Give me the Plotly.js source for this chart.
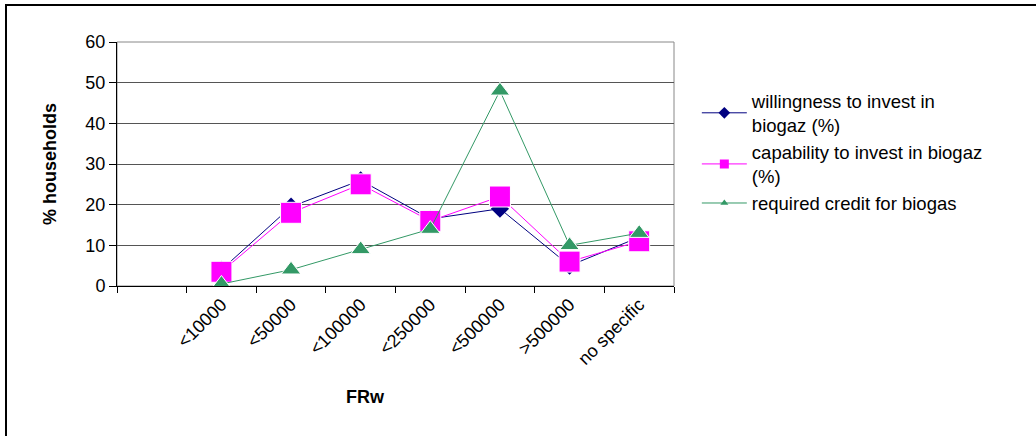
<!DOCTYPE html>
<html>
<head>
<meta charset="utf-8">
<script src="https://cdn.plot.ly/plotly-3.0.1.min.js"></script>
<style>
  html, body { margin: 0; padding: 0; background: #fff; }
  #wrap { position: relative; width: 1036px; height: 436px; overflow: hidden; }
  #chart { width: 1036px; height: 436px; }
  #frame { position: absolute; left: 5px; top: 4px; width: 1100px; height: 500px;
           border-left: 2px solid #000; border-top: 2px solid #000; pointer-events: none; }
</style>
</head>
<body>
<div id="wrap">
  <div id="chart"></div>
  <div id="frame"></div>
</div>
<script>
// Categories (first slot on the axis is empty, as in the original)
const axisCategories = [" ", "<10000", "<50000", "<100000", "<250000", "<500000", ">500000", "no specific"];
const categories = ["<10000", "<50000", "<100000", "<250000", "<500000", ">500000", "no specific"];

// Series values (% households)
const willingness = [4, 19.5, 26, 16.5, 19, 5, 12];
const capability  = [3.5, 18, 25, 16, 22, 6, 11];
const credit      = [0.5, 4, 9, 14, 48, 10, 13];

const seriesNames = [
  "willingness to invest in<br>biogaz (%)",
  "capability to invest in biogaz<br>(%)",
  "required credit for biogas"
];

const FONT = "Liberation Sans, Arial, sans-serif";
const navy = "#000080", magenta = "#FF00FF", green = "#339966";

const dataTraces = [
  { x: categories, y: willingness, type: "scatter", mode: "lines+markers", showlegend: false,
    line: { color: navy, width: 1 },
    marker: { symbol: "diamond", size: 14, color: navy, line: { color: navy, width: 0 } } },
  { x: categories, y: capability, type: "scatter", mode: "lines+markers", showlegend: false,
    line: { color: magenta, width: 1 },
    marker: { symbol: "square", size: 21, color: magenta, line: { color: "#ffffff", width: 1 } } },
  { x: categories, y: credit, type: "scatter", mode: "lines+markers", showlegend: false,
    line: { color: green, width: 1 },
    marker: { symbol: "triangle-up", size: 17, color: green, line: { color: "#ffffff", width: 1 } } }
];

// Legend entries (no data, just the key)
const legendTraces = [
  { x: [null], y: [null], type: "scatter", mode: "lines+markers", name: seriesNames[0],
    line: { color: navy, width: 1 }, marker: { symbol: "diamond", size: 9, color: navy } },
  { x: [null], y: [null], type: "scatter", mode: "lines+markers", name: seriesNames[1],
    line: { color: magenta, width: 1 }, marker: { symbol: "square", size: 9, color: magenta } },
  { x: [null], y: [null], type: "scatter", mode: "lines+markers", name: seriesNames[2],
    line: { color: green, width: 1 }, marker: { symbol: "triangle-up", size: 7, color: green } }
];

const layout = {
  width: 1036, height: 436,
  margin: { l: 117, r: 362, t: 42, b: 150, pad: 0 },
  paper_bgcolor: "#ffffff", plot_bgcolor: "#ffffff",
  font: { family: FONT, size: 18, color: "#000" },
  showlegend: true,
  legend: {
    x: 1.041, y: 0.835, xanchor: "left", yanchor: "top",
    font: { family: FONT, size: 18.5, color: "#000" },
    bgcolor: "rgba(0,0,0,0)", borderwidth: 0,
    itemwidth: 45
  },
  xaxis: {
    type: "category",
    categoryorder: "array", categoryarray: axisCategories,
    range: [-0.5, 7.5],
    tickson: "boundaries",
    ticks: "outside", ticklen: 6, tickcolor: "#000", tickwidth: 1,
    showline: true, linecolor: "#000", linewidth: 1,
    showgrid: false, zeroline: false,
    tickangle: -45,
    tickfont: { family: FONT, size: 18, color: "#000" },
    fixedrange: true
  },
  yaxis: {
    range: [0, 60], dtick: 10, tick0: 0,
    ticks: "outside", ticklen: 7, tickcolor: "#000", tickwidth: 1,
    showline: true, linecolor: "#000", linewidth: 1,
    showgrid: true, gridcolor: "#555", gridwidth: 1,
    zeroline: false,
    tickfont: { family: FONT, size: 18, color: "#000" },
    title: { text: "<b>% households</b>", font: { family: FONT, size: 18, color: "#000" }, standoff: 24 },
    fixedrange: true
  },
  shapes: [
    { type: "rect", xref: "paper", yref: "paper", x0: 0, x1: 1, y0: 0, y1: 1,
      line: { color: "#888", width: 1 }, layer: "below" }
  ],
  annotations: [
    { text: "<b>FRw</b>", xref: "paper", yref: "paper", x: 0.447, y: -0.455,
      xanchor: "center", yanchor: "middle", showarrow: false,
      font: { family: FONT, size: 18, color: "#000" } }
  ]
};

Plotly.newPlot("chart", dataTraces.concat(legendTraces), layout, { displayModeBar: false, staticPlot: true });
</script>
</body>
</html>
